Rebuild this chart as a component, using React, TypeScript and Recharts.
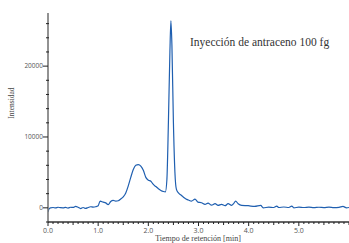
import React from 'react';
import { LineChart, Line, XAxis, YAxis, ReferenceDot } from 'recharts';

const times = [
  0.0, 0.02, 0.05, 0.1, 0.15, 0.2, 0.25, 0.3, 0.35, 0.4, 0.45, 0.5, 0.55, 0.6, 0.65, 0.7, 0.75, 0.8, 0.85, 0.9, 0.95,
  1.0, 1.04, 1.1, 1.15, 1.2, 1.25, 1.3, 1.35, 1.4, 1.45, 1.5, 1.55, 1.6, 1.65, 1.7, 1.75, 1.8, 1.85, 1.9, 1.95,
  2.0, 2.05, 2.1, 2.15, 2.2, 2.25, 2.3, 2.34, 2.37, 2.4, 2.43, 2.45, 2.47, 2.5, 2.53, 2.56, 2.6, 2.65, 2.7, 2.75,
  2.8, 2.86, 2.93, 2.99, 3.06, 3.13, 3.19, 3.26, 3.33, 3.39, 3.46, 3.53, 3.59, 3.66, 3.7, 3.74, 3.79, 3.86, 3.99,
  4.12, 4.24, 4.29, 4.4, 4.5, 4.56, 4.6, 4.7, 4.8, 4.86, 4.9, 5.0, 5.1, 5.2, 5.3, 5.4, 5.5, 5.6, 5.7, 5.8, 5.88, 5.95, 6.0,
];
const intensity = [
  -600, -150, 0, 50, -20, 80, 20, 0, 60, -30, 80, 60, 200, 80, -100, 50, -80, 50, 150, 100, 150,
  300, 950, 800, 700, 450, 900, 1050, 950, 1000, 1250, 1550, 2100, 3100, 4300, 5400, 6000, 6100, 5900, 5300, 4300,
  3900, 3750, 3300, 3000, 2700, 2450, 2300, 2250, 4000, 12000, 22000, 26400, 23000, 12000, 5000, 2600, 2100, 1800, 1500, 1250,
  1100, 950, 1230, 800, 720, 480, 670, 380, 580, 340, 480, 300, 580, 340, 600, 950, 580, 340, 300,
  200, 340, 0, 100, 50, 250, 50, 120, 50, 250, 0, 100, 50, 100, 30, 80, 40, 100, 30, 60, 200, 0, 50,
];

const xMajorTicks = [0, 1, 2, 3, 4, 5];
const yMajorTicks = [0, 10000, 20000];
const xDomain = [0, 6];
const yDomain = [-2000, 27500];
const xTicks: number[] = [];
for (let i = 0; i <= 60; i++) xTicks.push(i / 10);
const yTicks: number[] = [];
for (let v = -2000; v <= 26000; v += 2000) yTicks.push(v);

const title = 'Inyección de antraceno 100 fg';
const xLabel = 'Tiempo de retención [min]';
const yLabel = 'Intensidad';

const data = times.map((t, i) => ({ t, v: intensity[i] }));

const tickFont = '"Open Sans", sans-serif';
const serif = '"Liberation Serif", serif';

const XTick = (props: any) => {
  const { x, y, payload } = props;
  const val = payload.value;
  const major = xMajorTicks.some((m) => Math.abs(m - val) < 1e-6);
  const half = Math.abs(val * 2 - Math.round(val * 2)) < 1e-6;
  const len = major ? 4 : half ? 3 : 2;
  return (
    <g>
      <line x1={x} x2={x} y1={y} y2={y + len} stroke="#222" strokeWidth={1} />
      {major && (
        <text x={x} y={y + 11} textAnchor="middle" fontSize={7} fill="#555" fontFamily={tickFont}>
          {val.toFixed(1)}
        </text>
      )}
    </g>
  );
};

const YTick = (props: any) => {
  const { x, y, payload } = props;
  const val = payload.value;
  const major = yMajorTicks.includes(val);
  const len = major ? 5 : 2;
  return (
    <g>
      <line x1={x - len} x2={x + (major ? 0 : 1)} y1={y} y2={y} stroke="#222" strokeWidth={1} />
      {major && (
        <text x={x - 5} y={y + 2.3} textAnchor="end" fontSize={6.5} fill="#555" fontFamily={tickFont}>
          {val}
        </text>
      )}
    </g>
  );
};

export default function App() {
  return (
    <div style={{ position: 'absolute', left: 0, top: 0, background: '#fff' }}>
      <LineChart width={349} height={243} data={data} margin={{ top: 13, right: 0, bottom: 0, left: 8 }}>
        <XAxis
          dataKey="t"
          type="number"
          domain={xDomain}
          ticks={xTicks}
          interval={0}
          tickSize={0}
          tickMargin={0}
          tick={<XTick />}
          axisLine={{ stroke: '#333', strokeWidth: 1.5 }}
          height={21}
          allowDataOverflow
          label={{
            content: () => (
              <text x={198} y={241} textAnchor="middle" fontSize={8} fill="#444" fontFamily={serif}>
                {xLabel}
              </text>
            ),
          }}
        />
        <YAxis
          type="number"
          domain={yDomain}
          ticks={yTicks}
          interval={0}
          tickSize={0}
          tickMargin={0}
          tick={<YTick />}
          axisLine={{ stroke: '#777', strokeWidth: 1.6 }}
          width={40}
          allowDataOverflow
          label={{
            content: () => (
              <text
                x={14}
                y={103}
                textAnchor="middle"
                fontSize={7.5}
                fill="#444"
                fontFamily={serif}
                transform="rotate(-90 14 103)"
              >
                {yLabel}
              </text>
            ),
          }}
        />
        <ReferenceDot
          x={2.83}
          y={23400}
          r={0}
          fill="none"
          stroke="none"
          label={{
            content: (p: any) => {
              const vb = p.viewBox || {};
              const cx = vb.x !== undefined ? vb.x + (vb.width || 0) / 2 : 190;
              const cy = vb.y !== undefined ? vb.y + (vb.height || 0) / 2 : 42;
              return (
                <text x={cx} y={cy + 4} textAnchor="start" fontSize={11.5} fill="#333" fontFamily={serif}>
                  {title}
                </text>
              );
            },
          }}
        />
        <Line
          type="monotone"
          dataKey="v"
          stroke="#1f5fb0"
          strokeWidth={1.2}
          dot={false}
          isAnimationActive={false}
        />
      </LineChart>
    </div>
  );
}
